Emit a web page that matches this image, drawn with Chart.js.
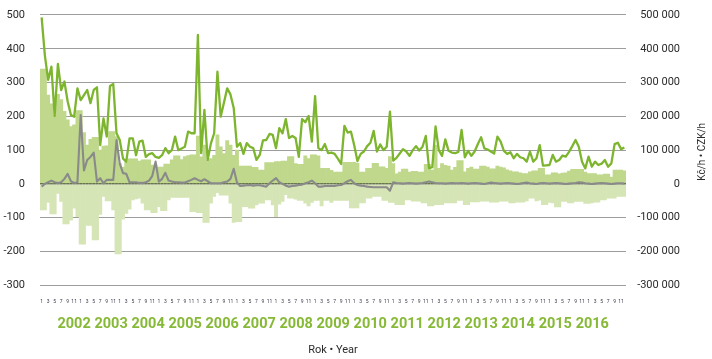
<!DOCTYPE html>
<html><head><meta charset="utf-8">
<script src="https://cdn.jsdelivr.net/npm/chart.js@4.4.1/dist/chart.umd.min.js"></script>
<style>html,body{margin:0;padding:0;background:#fff;}</style>
</head><body>
<canvas id="c" width="712" height="359"></canvas>
<script>
const years = [2002,2003,2004,2005,2006,2007,2008,2009,2010,2011,2012,2013,2014,2015,2016];
const months = [1,2,3,4,5,6,7,8,9,10,11,12];
const yTicks = [-300,-200,-100,0,100,200,300,400,500];
const xTitle = 'Rok • Year';
const rightTitle = 'Kč/h • CZK/h';

// light green bars above zero
const positiveBars = [
 340,340,263,237,204,265,250,215,190,170,175,217,
 217,152,115,132,138,138,100,112,113,155,155,140,
 60,50,65,74,74,74,68,71,71,71,56,56,
 50,50,59,59,71,83,83,72,81,84,86,86,
 142,80,115,70,75,85,145,110,90,128,115,85,
 100,53,53,53,53,49,49,41,41,63,63,63,
 66,66,68,68,81,81,60,58,58,83,75,86,
 86,83,46,46,46,40,35,35,35,64,64,64,
 64,62,35,35,46,46,61,61,51,51,46,81,
 60,30,35,44,44,35,37,37,35,35,58,58,
 41,115,46,60,55,53,41,49,69,69,36,46,
 50,44,44,53,53,50,45,45,53,50,48,42,
 39,36,36,33,31,31,36,39,39,46,46,27,
 27,33,33,30,32,33,38,43,43,43,43,35,
 31,31,31,27,27,29,29,20,41,41,41,39];
// pale green bars below zero
const negativeBars = [
 -77,-77,-55,-89,-89,-28,-52,-118,-118,-107,-72,-97,
 -178,-178,-123,-123,-166,-166,-90,-37,-50,-50,-77,-207,
 -207,-104,-87,-75,-47,-44,-42,-57,-77,-77,-85,-85,
 -67,-79,-79,-47,-40,-40,-40,-40,-40,-40,-82,-82,
 -85,-85,-114,-114,-57,-37,-26,-33,-33,-33,-57,-114,
 -112,-112,-67,-67,-72,-72,-62,-57,-57,-47,-47,-62,
 -97,-60,-52,-32,-42,-42,-45,-49,-49,-57,-65,-55,
 -49,-49,-65,-49,-49,-55,-49,-49,-49,-49,-49,-71,
 -71,-71,-56,-56,-42,-42,-37,-37,-37,-49,-49,-55,
 -55,-61,-61,-61,-47,-47,-51,-51,-51,-56,-56,-65,
 -65,-61,-61,-61,-56,-56,-56,-56,-49,-49,-61,-61,
 -53,-53,-53,-51,-51,-51,-54,-54,-54,-51,-51,-51,
 -56,-56,-54,-54,-54,-50,-42,-42,-50,-48,-61,-61,
 -55,-56,-68,-68,-52,-52,-56,-56,-52,-52,-52,-58,
 -58,-56,-54,-54,-47,-47,-42,-42,-42,-37,-37,-37];
// green line
const greenLine = [
 493,380,308,347,201,355,278,303,244,204,199,283,
 248,263,278,239,278,286,115,194,140,290,296,150,
 130,75,66,135,135,85,125,128,80,88,91,80,
 77,85,106,91,100,140,100,105,110,155,150,150,
 441,91,219,71,120,150,332,199,240,283,265,225,
 110,121,89,121,110,106,71,86,129,130,148,145,
 106,165,150,192,136,142,136,80,192,183,201,125,
 260,106,100,118,91,93,89,75,59,172,152,155,
 115,68,89,96,112,122,157,96,117,100,110,214,
 69,77,90,103,96,83,100,112,99,110,142,47,
 50,170,100,83,132,98,93,91,95,160,79,98,
 83,96,118,138,105,102,96,90,140,125,98,89,
 94,76,89,79,76,66,96,66,76,115,54,55,
 56,86,66,71,84,81,95,112,130,110,66,46,
 81,51,66,56,60,71,51,61,118,122,103,108];
// grey line
const greyLine = [
 -8,0,5,10,5,3,5,15,30,8,3,5,
 204,40,71,80,93,7,17,2,12,12,12,130,
 60,32,30,5,5,5,3,3,5,10,24,66,
 7,15,33,10,7,5,5,4,4,8,12,17,
 12,8,14,8,2,2,2,2,5,7,15,45,
 4,-6,-5,-4,-3,-5,-4,-4,-6,-8,2,10,
 17,5,0,-5,-8,-6,-5,-3,-2,2,5,10,
 2,-8,-8,-6,-6,-6,-6,-4,-3,2,8,12,
 2,-3,-5,-6,-8,-9,-10,-10,-10,-10,-10,-20,
 5,3,2,1,2,3,2,1,2,3,5,7,
 5,3,2,2,1,2,3,2,2,3,2,1,
 2,3,2,1,0,2,4,3,2,1,2,3,
 2,1,0,1,3,4,2,1,0,2,3,2,
 1,2,3,2,1,0,1,2,3,5,4,2,
 1,0,1,2,3,2,1,0,1,2,2,1];

const labels = [];
years.forEach(y => months.forEach(m => labels.push(y + '-' + m)));

function fmtThousands(v){
  const n = Math.round(Math.abs(v) * 1000);
  const s = n.toString().replace(/\B(?=(\d{3})+(?!\d))/g, ' ');
  return (v < 0 ? '-' : '') + s;
}

const sideTitle = {
  id: 'sideTitle',
  afterDraw(chart){
    const ctx = chart.ctx;
    ctx.save();
    ctx.translate(chart.width - 10, chart.scales.y.getPixelForValue(95));
    ctx.rotate(-Math.PI/2);
    ctx.font = '10px Roboto';
    ctx.fillStyle = '#2b2b2b';
    ctx.textAlign = 'center';
    ctx.textBaseline = 'middle';
    ctx.fillText(rightTitle, 0, 0);
    ctx.restore();
  }
};

function fixVertical(width){
  return s => { s.width = width; s.paddingTop = 4; s.paddingBottom = 4; };
}

new Chart(document.getElementById('c'), {
  type: 'bar',
  data: {
    labels: labels,
    datasets: [
      {type:'line', data: greenLine, borderColor:'#7db52f', borderWidth:2.3, pointRadius:0, tension:0, order:0, borderJoinStyle:'round'},
      {type:'line', data: greyLine, borderColor:'#8a8a8a', borderWidth:2.1, pointRadius:0, tension:0, order:1, borderJoinStyle:'round'},
      {data: positiveBars, backgroundColor:'#bfd88c', borderWidth:0, barPercentage:1, categoryPercentage:1, grouped:false, order:2},
      {data: negativeBars, backgroundColor:'#d6e5b6', borderWidth:0, barPercentage:1, categoryPercentage:1, grouped:false, order:3}
    ]
  },
  options: {
    responsive: false,
    animation: false,
    devicePixelRatio: 1,
    layout: {padding: {top: 15, right: 32, bottom: 0, left: 0}},
    plugins: {legend: {display:false}, tooltip: {enabled:false}},
    scales: {
      x: {
        type: 'category', position: 'bottom', weight: 0,
        grid: {display:false, drawTicks:false}, border: {display:false},
        ticks: {
          autoSkip:false, maxRotation:0, minRotation:0, padding:13.5,
          font:{family:'Roboto', size:5}, color:'#3a3a4a',
          callback: (v, i) => (i % 12) % 2 === 0 ? String(months[i % 12]) : ''
        },
        afterFit: s => { s.height = 24; }
      },
      xYear: {
        type: 'linear', position: 'bottom', weight: 1,
        min: -0.393, max: 14.383,
        grid: {display:false, drawTicks:false}, border: {display:false},
        afterBuildTicks: s => { s.ticks = years.map((y, i) => ({value: i})); },
        ticks: {
          autoSkip:false, maxRotation:0, padding:6,
          font:{family:'Roboto', size:14.5, weight:'bold'}, color:'#86b935',
          callback: v => years[v]
        },
        title: {display:true, text:xTitle, font:{family:'Roboto', size:11}, color:'#2b2b2b', padding:{top:0, bottom:2.4}},
        afterFit: s => { s.height = 49.7; }
      },
      y: {
        position: 'left', min: -300, max: 500,
        afterBuildTicks: s => { s.ticks = yTicks.map(v => ({value: v})); },
        grid: {
          drawTicks:false,
          color: c => c.tick && c.tick.value === 0 ? '#111' : '#9d9d9d',
          lineWidth: c => c.tick && c.tick.value === 0 ? 1.6 : 1.1
        },
        border: {display:false},
        ticks: {padding:15, font:{family:'Roboto', size:11}, color:'#2b2b2b'},
        afterFit: fixVertical(40)
      },
      y2: {
        position: 'right', min: -300, max: 500,
        afterBuildTicks: s => { s.ticks = yTicks.map(v => ({value: v})); },
        grid: {display:false, drawTicks:false}, border: {display:false},
        ticks: {padding:15, crossAlign:'far', font:{family:'Roboto', size:11}, color:'#2b2b2b', callback: v => fmtThousands(v)},
        afterFit: fixVertical(54)
      }
    }
  },
  plugins: [sideTitle]
});
</script>
</body></html>
